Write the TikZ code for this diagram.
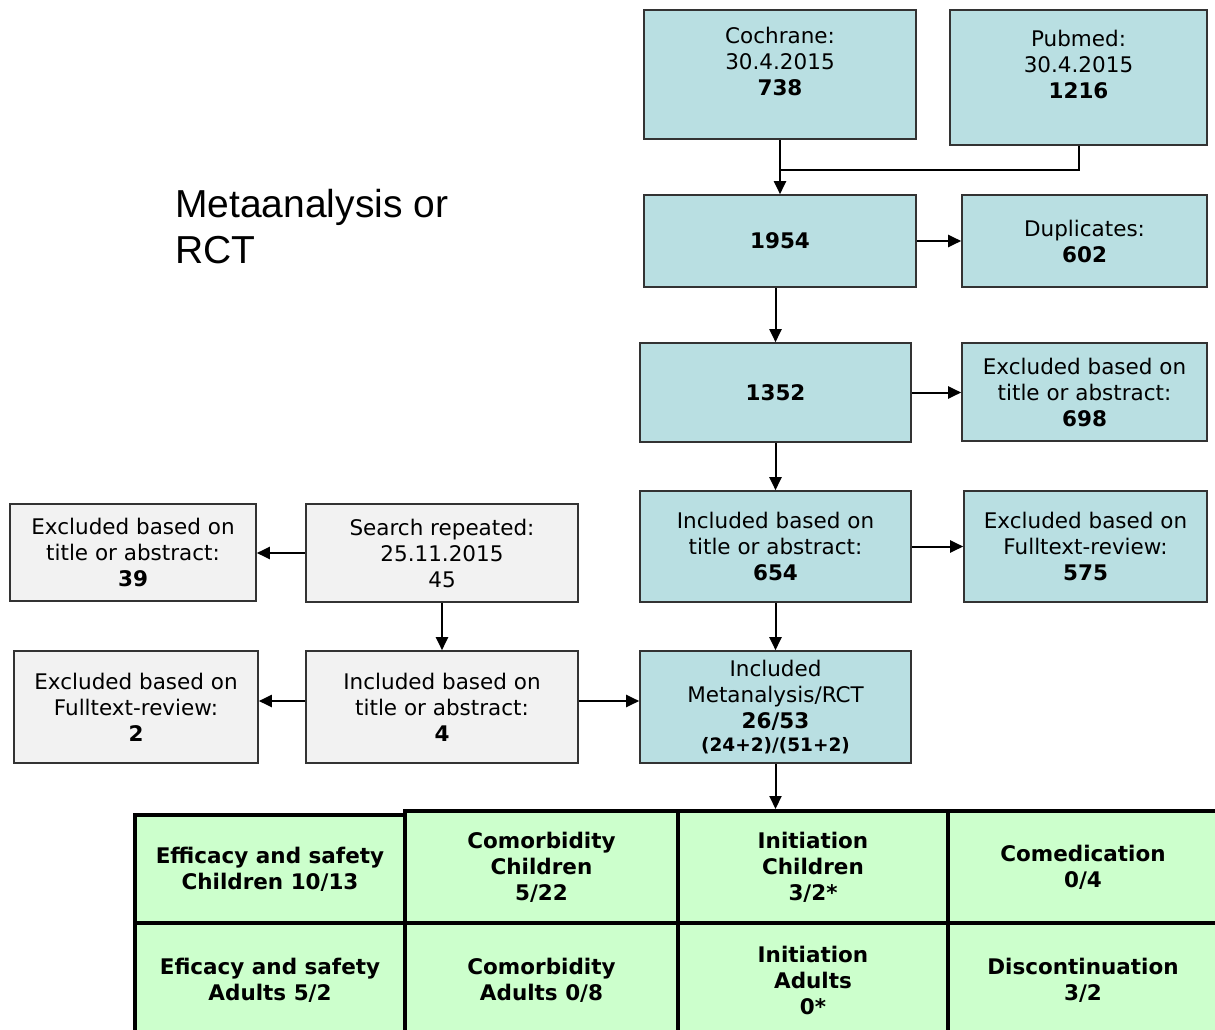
\documentclass[tikz,border=0pt]{standalone}
\usepackage{fontspec}
\setmainfont{DejaVu Sans}
\newfontfamily\headfont{Liberation Sans}
\usetikzlibrary{arrows.meta}

\definecolor{boxblue}{HTML}{B9DFE2}
\definecolor{boxgrey}{HTML}{F2F2F2}
\definecolor{cellgreen}{HTML}{CCFFCC}
\definecolor{edgegrey}{HTML}{333333}

\tikzset{
  flowbox/.style={draw=edgegrey, line width=1.6pt, fill=boxblue, align=center, inner sep=0pt,
    font=\fontsize{21.5}{26}\selectfont},
  repbox/.style={flowbox, fill=boxgrey},
  cell/.style={draw=black, line width=4pt, fill=cellgreen, align=center, inner sep=0pt,
    minimum width=270pt, font=\bfseries\fontsize{21.5}{26}\selectfont},
  flow/.style={line width=2pt, -{Triangle[length=13pt,width=12pt]}},
}

\begin{document}
\begin{tikzpicture}[x=1pt,y=-1pt]
      \useasboundingbox (0,0) rectangle (1215,1030);
      \clip (0,0) rectangle (1215,1030);
      \node [anchor=base west, inner sep=0pt, align=left, font=\headfont\fontsize{39}{46}\selectfont] (title) at (175,263) {Metaanalysis or\\RCT};
      % search
      \node [flowbox, minimum width=272pt, minimum height=129pt] (coch) at (780,74.5) {Cochrane:\\30.4.2015\\\textbf{738}\\\mbox{}};
      \node [flowbox, minimum width=257pt, minimum height=135pt] (pub) at (1078.5,77.5) {Pubmed:\\30.4.2015\\\textbf{1216}\\\mbox{}};
      \node [flowbox, minimum width=272pt, minimum height=92pt] (n1954) at (780,241) {\textbf{1954}};
      \node [flowbox, minimum width=245pt, minimum height=92pt] (dup) at (1084.5,241) {Duplicates:\\\textbf{602}};
      \node [flowbox, minimum width=271pt, minimum height=99pt] (n1352) at (775.5,392.5) {\textbf{1352}};
      \node [flowbox, minimum width=245pt, minimum height=98pt] (ex698) at (1084.5,392) {Excluded based on\\title or abstract:\\\textbf{698}};
      \node [flowbox, minimum width=271pt, minimum height=111pt] (inc654) at (775.5,546.5) {Included based on\\title or abstract:\\\textbf{654}};
      \node [flowbox, minimum width=243pt, minimum height=111pt] (ex575) at (1085.5,546.5) {Excluded based on\\Fulltext-review:\\\textbf{575}};
      \node [flowbox, minimum width=271pt, minimum height=112pt] (meta) at (775.5,707) {Included\\Metanalysis/RCT\\\textbf{26/53}\\[-3pt]{\fontsize{18.5}{21}\selectfont\textbf{(24+2)/(51+2)}}};
      % repeated search
      \node [repbox, minimum width=272pt, minimum height=98pt] (search) at (442,553) {Search repeated:\\25.11.2015\\45};
      \node [repbox, minimum width=246pt, minimum height=97pt] (ex39) at (133,552.5) {Excluded based on\\title or abstract:\\\textbf{39}};
      \node [repbox, minimum width=272pt, minimum height=112pt] (inc4) at (442,707) {Included based on\\title or abstract:\\\textbf{4}};
      \node [repbox, minimum width=244pt, minimum height=112pt] (ex2) at (136,707) {Excluded based on\\Fulltext-review:\\\textbf{2}};
      % topics
      \node [cell, minimum height=108pt] (effc) at (270,869) {Efficacy and safety\\Children 10/13};
      \node [cell, minimum width=273pt, minimum height=112pt] (comc) at (541.5,867) {Comorbidity\\Children\\5/22};
      \node [cell, minimum height=112pt] (inic) at (813,867) {Initiation\\Children\\3/2*};
      \node [cell, minimum height=112pt] (comed) at (1083,867) {Comedication\\0/4};
      \node [cell, minimum height=114pt] (effa) at (270,980) {Eficacy and safety\\Adults 5/2};
      \node [cell, minimum width=273pt, minimum height=114pt] (coma) at (541.5,980) {Comorbidity\\Adults 0/8};
      \node [cell, minimum height=114pt] (inia) at (813,980) {Initiation\\Adults\\0*};
      \node [cell, minimum height=114pt] (disc) at (1083,980) {Discontinuation\\3/2};
      % connectors
      \coordinate (join) at (780,170);
      \draw [line width=2pt] (pub.south) |- (join);
      \draw [flow] (coch.south) -- (n1954.north);
      \draw [flow] (n1954.east) -- (dup.west);
      \draw [flow] (n1352.north |- n1954.south) -- (n1352.north);
      \draw [flow] (n1352.east) -- (n1352.east -| ex698.west);
      \draw [flow] (n1352.south) -- (inc654.north);
      \draw [flow] (inc654.east) -- (inc654.east -| ex575.west);
      \draw [flow] (inc654.south) -- (meta.north);
      \draw [flow] (search.west) -- (search.west -| ex39.east);
      \draw [flow] (search.south) -- (inc4.north);
      \draw [flow] ([yshift=6pt]inc4.west) -- ([yshift=6pt]inc4.west -| ex2.east);
      \draw [flow] ([yshift=6pt]inc4.east) -- ([yshift=6pt]inc4.east -| meta.west);
      \draw [flow] (meta.south) -- (meta.south |- inic.north);
    \end{tikzpicture}
\end{document}
